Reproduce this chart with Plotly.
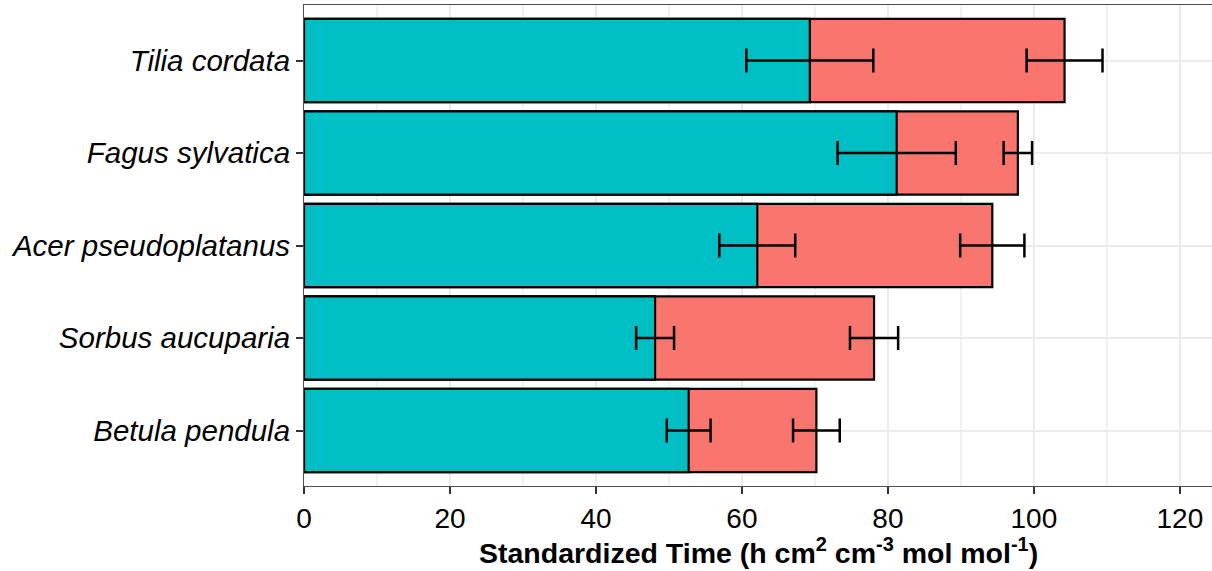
import plotly.graph_objects as go

# Species, listed bottom-to-top as they appear on the y axis
species = ["Betula pendula", "Sorbus aucuparia", "Acer pseudoplatanus",
           "Fagus sylvatica", "Tilia cordata"]

# Longer (total) standardized time and its standard error
total_time = [70.2, 78.1, 94.3, 97.8, 104.2]
total_se = [3.2, 3.3, 4.4, 1.95, 5.2]

# Shorter (first-phase) standardized time and its standard error
phase_time = [52.7, 48.1, 62.1, 81.2, 69.3]
phase_se = [3.0, 2.6, 5.2, 8.1, 8.7]

x_ticks = [0, 20, 40, 60, 80, 100, 120]

RED = "#F8766D"
TEAL = "#00BFC4"
FONT = "Liberation Sans, Arial, sans-serif"

fig = go.Figure()

err_style = dict(type="data", color="black", thickness=2.5, width=12, visible=True)

fig.add_trace(go.Bar(
    y=species, x=total_time, orientation="h", width=0.9,
    marker=dict(color=RED, line=dict(color="black", width=2.2)),
    error_x=dict(array=total_se, **err_style),
    showlegend=False, hoverinfo="skip",
))
fig.add_trace(go.Bar(
    y=species, x=phase_time, orientation="h", width=0.9,
    marker=dict(color=TEAL, line=dict(color="black", width=2.2)),
    error_x=dict(array=phase_se, **err_style),
    showlegend=False, hoverinfo="skip",
))

fig.update_layout(
    width=1212, height=571,
    margin=dict(l=304, r=0, t=5, b=85),
    barmode="overlay",
    plot_bgcolor="white", paper_bgcolor="white",
    font=dict(family=FONT, color="black"),
)

fig.update_xaxes(
    range=[0, 124.4],
    tickmode="array", tickvals=x_ticks, ticktext=[str(v) for v in x_ticks],
    tickfont=dict(size=28, color="black", family=FONT),
    ticks="outside", ticklen=7, tickwidth=1.5, tickcolor="#333333",
    showline=True, linecolor="#4d4d4d", linewidth=1, mirror=True,
    showgrid=True, gridcolor="#EBEBEB", gridwidth=2,
    minor=dict(tickvals=[10, 30, 50, 70, 90, 110], showgrid=True,
               gridcolor="#F2F2F2", gridwidth=1.5, ticks=""),
    zeroline=False,
)

fig.update_yaxes(
    range=[-0.6, 4.6],
    categoryorder="array", categoryarray=species,
    tickfont=dict(size=29.5, color="black", family=FONT, style="italic"),
    ticks="outside", ticklen=7, tickwidth=1.5, tickcolor="#333333",
    showline=True, linecolor="#4d4d4d", linewidth=1,
    showgrid=True, gridcolor="#EBEBEB", gridwidth=2,
    zeroline=False,
)

fig.add_annotation(
    text="Standardized Time (h cm<sup>2</sup> cm<sup>-3</sup> mol mol<sup>-1</sup>)",
    xref="paper", yref="paper", x=0.5, y=0, yshift=-45,
    xanchor="center", yanchor="top", showarrow=False,
    font=dict(size=28.5, family=FONT, color="black", weight="bold"),
)

fig.write_html("out.html")
